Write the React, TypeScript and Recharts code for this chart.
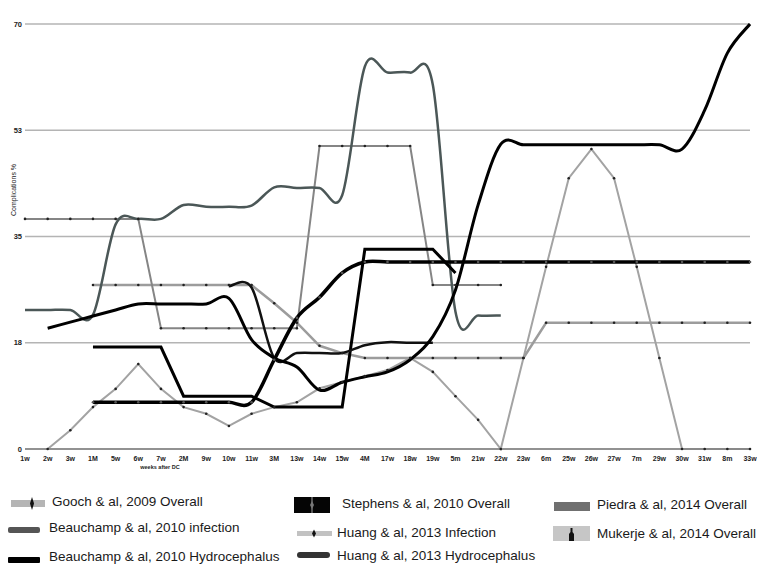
import React from 'react';
import { LineChart, Line, XAxis, YAxis, CartesianGrid } from 'recharts';

const categories = ['1w', '2w', '3w', '1M', '5w', '6w', '7w', '2M', '9w', '10w', '11w', '3M', '13w', '14w', '15w', '4M', '17w', '18w', '19w', '5m', '21w', '22w', '23w', '6m', '25w', '26w', '27w', '7m', '29w', '30w', '31w', '8m', '33w'];
const yTicks = [0, 17.5, 35, 52.5, 70];

const N = null;
const goochOverall = [37.9, 37.9, 37.9, 37.9, 37.9, 37.9, 19.9, 19.9, 19.9, 19.9, 19.9, 19.9, 19.9, 49.9, 49.9, 49.9, 49.9, 49.9, 27, 27, 27, 27, N, N, N, N, N, N, N, N, N, N, N];
const beauchampInfection = [22.9, 22.9, 22.9, 22.1, 37, 37.9, 37.9, 40.2, 39.9, 39.9, 40.1, 43.1, 43, 43, 41.8, 63, 62, 62, 60, 22.6, 22, 22, N, N, N, N, N, N, N, N, N, N, N];
const beauchampHydro = [N, 19.9, 20.9, 21.9, 22.9, 23.9, 23.9, 23.9, 23.9, 24.8, 18, 15, 13.5, 9.7, 11, 11.9, 12.7, 14.7, 18.5, 26.2, 40.2, 50.2, 50.1, 50.1, 50.1, 50.1, 50.1, 50.1, 50.1, 49.4, 55.8, 65.2, 70];
const stephensOverall = [N, N, N, 7.7, 7.7, 7.7, 7.7, 7.7, 7.7, 7.7, 7.7, 14.7, 21.6, 25, 29, 30.8, 30.8, 30.8, 30.8, 30.8, 30.8, 30.8, 30.8, 30.8, 30.8, 30.8, 30.8, 30.8, 30.8, 30.8, 30.8, 30.8, 30.8];
const huangInfection = [N, N, N, 27, 27, 27, 27, 27, 27, 27, 27, 24, 20.8, 17, 15.8, 15, 15, 15, 15, 15, 15, 15, 15, 20.8, 20.8, 20.8, 20.8, 20.8, 20.8, 20.8, 20.8, 20.8, 20.8];
const huangHydro = [N, N, N, N, N, N, N, N, N, 26.8, 26.6, 15, 15.8, 15.8, 15.8, 17.1, 17.6, 17.5, 17.5, N, N, N, N, N, N, N, N, N, N, N, N, N, N];
const piedraOverall = [N, N, N, 16.8, 16.8, 16.8, 16.8, 8.7, 8.7, 8.7, 8.7, 6.9, 6.9, 6.9, 6.9, 32.9, 32.9, 32.9, 32.9, 29, N, N, N, N, N, N, N, N, N, N, N, N, N];
const mukerjeOverall = [N, 0, 3.1, 6.9, 9.9, 14, 9.9, 6.9, 5.8, 3.8, 5.8, 6.9, 7.7, 10, 11, 12, 13, 15, 12.7, 8.7, 4.8, 0, 15, 30, 44.6, 49.4, 44.6, 30, 15, 0, 0, 0, 0];

const data = categories.map((cat, i) => ({
  cat,
  gooch: goochOverall[i],
  bInf: beauchampInfection[i],
  bHyd: beauchampHydro[i],
  steph: stephensOverall[i],
  hInf: huangInfection[i],
  hHyd: huangHydro[i],
  pied: piedraOverall[i],
  muk: mukerjeOverall[i],
}));

// Catmull-Rom style smoothing (similar to spreadsheet "smoothed line")
const smoothCurve: any = (context: any) => {
  let xs: number[] = [];
  let ys: number[] = [];
  return {
    areaStart() {},
    areaEnd() {},
    lineStart() {
      xs = [];
      ys = [];
    },
    point(x: number, y: number) {
      xs.push(+x);
      ys.push(+y);
    },
    lineEnd() {
      const n = xs.length;
      if (!n) return;
      context.moveTo(xs[0], ys[0]);
      if (n === 1) return;
      for (let i = 0; i < n - 1; i++) {
        const i0 = i > 0 ? i - 1 : i;
        const i3 = i + 2 < n ? i + 2 : i + 1;
        const x0 = xs[i0], y0 = ys[i0];
        const x1 = xs[i], y1 = ys[i];
        const x2 = xs[i + 1], y2 = ys[i + 1];
        const x3 = xs[i3], y3 = ys[i3];
        context.bezierCurveTo(
          x1 + (x2 - x0) / 6,
          y1 + (y2 - y0) / 6,
          x2 - (x3 - x1) / 6,
          y2 - (y3 - y1) / 6,
          x2,
          y2
        );
      }
    },
  };
};

const dotSmall = (fill: string) => ({ r: 1.3, fill, stroke: 'none' });

const FONT = '"Liberation Sans", Arial, sans-serif';

const legendItems = [
  { text: 'Gooch & al, 2009 Overall', left: 44, cy: 494 },
  { text: 'Beauchamp & al, 2010 infection', left: 41, cy: 520 },
  { text: 'Beauchamp & al, 2010 Hydrocephalus', left: 41, cy: 549 },
  { text: 'Stephens & al, 2010 Overall', left: 334, cy: 496 },
  { text: 'Huang & al, 2013 Infection', left: 329, cy: 525 },
  { text: 'Huang & al, 2013 Hydrocephalus', left: 329, cy: 548 },
  { text: 'Piedra & al, 2014 Overall', left: 589, cy: 497 },
  { text: 'Mukerje & al, 2014 Overall', left: 589, cy: 526 },
];

const LegendIcons = () => (
  <svg width={757} height={567} style={{ position: 'absolute', left: 0, top: 0, pointerEvents: 'none' }}>
    {/* Gooch */}
    <rect x={3} y={492} width={34} height={7} fill="#b5b5b5" />
    <path d="M24 489 L26 495.5 L24 502 L22 495.5 Z" fill="#111" />
    {/* Beauchamp infection */}
    <rect x={0} y={519} width={32} height={6} rx={2} fill="#555" />
    {/* Beauchamp hydrocephalus */}
    <rect x={0} y={549} width={32} height={6} rx={1} fill="#000" />
    {/* Stephens */}
    <rect x={286} y={489} width={36} height={16} fill="#050505" />
    <rect x={303} y={489} width={2} height={16} fill="#555" />
    <path d="M304 493 L306 497 L304 501 L302 497 Z" fill="#777" />
    {/* Huang infection */}
    <rect x={289} y={523} width={35} height={5} fill="#c2c2c2" />
    <path d="M306 521.5 L308 525.5 L306 529.5 L304 525.5 Z" fill="#111" />
    {/* Huang hydro */}
    <rect x={289} y={544} width={33} height={6} rx={3} fill="#333" />
    {/* Piedra */}
    <rect x={546} y={494} width={36} height={9} fill="#707070" />
    {/* Mukerje */}
    <rect x={545} y={518} width={37} height={15} fill="#c6c6c6" />
    <path d="M562.5 520 L564.5 520 L564.5 524 L566 526 L566 533 L561 533 L561 526 L562.5 524 Z" fill="#111" />
  </svg>
);

export default function App() {
  return (
    <div style={{ position: 'relative', width: 757, height: 567, fontFamily: FONT, background: '#fff' }}>
      <LineChart
        width={757}
        height={480}
        data={data}
        margin={{ top: 16, right: 15, left: 0, bottom: 9 }}
      >
        <CartesianGrid horizontal={true} vertical={false} stroke="#b4b4b4" strokeWidth={1.5} />
        <XAxis
          dataKey="cat"
          interval={0}
          height={30}
          tickLine={false}
          tickSize={0}
          tickMargin={7}
          axisLine={{ stroke: '#808080', strokeWidth: 1.5 }}
          tick={{ fontSize: 7, fill: '#222', fontFamily: FONT, fontWeight: 'bold' }}
        />
        <YAxis
          width={17}
          domain={[0, 70]}
          ticks={yTicks}
          interval={0}
          axisLine={false}
          tickLine={false}
          tickSize={0}
          tickMargin={3}
          tickFormatter={(v: number) => String(Math.round(v))}
          tick={{ fontSize: 7.5, fill: '#222', fontFamily: FONT, fontWeight: 'bold' }}
        />
        <Line dataKey="muk" type="linear" stroke="#a3a3a3" strokeWidth={2} dot={dotSmall('#222')} activeDot={false} isAnimationActive={false} />
        <Line dataKey="hInf" type="linear" stroke="#9c9c9c" strokeWidth={2.5} dot={dotSmall('#222')} activeDot={false} isAnimationActive={false} />
        <Line dataKey="gooch" type="linear" stroke="#858585" strokeWidth={2} dot={dotSmall('#222')} activeDot={false} isAnimationActive={false} />
        <Line dataKey="bInf" type={smoothCurve} stroke="#4b5757" strokeWidth={2.5} dot={false} activeDot={false} isAnimationActive={false} />
        <Line dataKey="steph" type={smoothCurve} stroke="#000" strokeWidth={3.5} dot={dotSmall('#555')} activeDot={false} isAnimationActive={false} />
        <Line dataKey="pied" type="linear" stroke="#000" strokeWidth={3} dot={false} activeDot={false} isAnimationActive={false} />
        <Line dataKey="hHyd" type={smoothCurve} stroke="#111" strokeWidth={2.5} dot={false} activeDot={false} isAnimationActive={false} />
        <Line dataKey="bHyd" type={smoothCurve} stroke="#000" strokeWidth={3} dot={false} activeDot={false} isAnimationActive={false} />
      </LineChart>

      <div
        style={{
          position: 'absolute',
          left: 152,
          top: 459,
          transform: 'translate(-50%, -50%)',
          fontSize: 5.5,
          fontWeight: 'bold',
          color: '#222',
          whiteSpace: 'nowrap',
        }}
      >
        weeks after DC
      </div>
      <div
        style={{
          position: 'absolute',
          left: 4.5,
          top: 182,
          transform: 'translate(-50%, -50%) rotate(-90deg)',
          fontSize: 7,
          color: '#222',
          whiteSpace: 'nowrap',
        }}
      >
        Complications %
      </div>

      <LegendIcons />
      {legendItems.map((it) => (
        <div
          key={it.text}
          style={{
            position: 'absolute',
            left: it.left,
            top: it.cy - 8,
            height: 16,
            lineHeight: '16px',
            fontSize: 13.5,
            color: '#1a1a1a',
            whiteSpace: 'nowrap',
          }}
        >
          {it.text}
        </div>
      ))}
    </div>
  );
}
